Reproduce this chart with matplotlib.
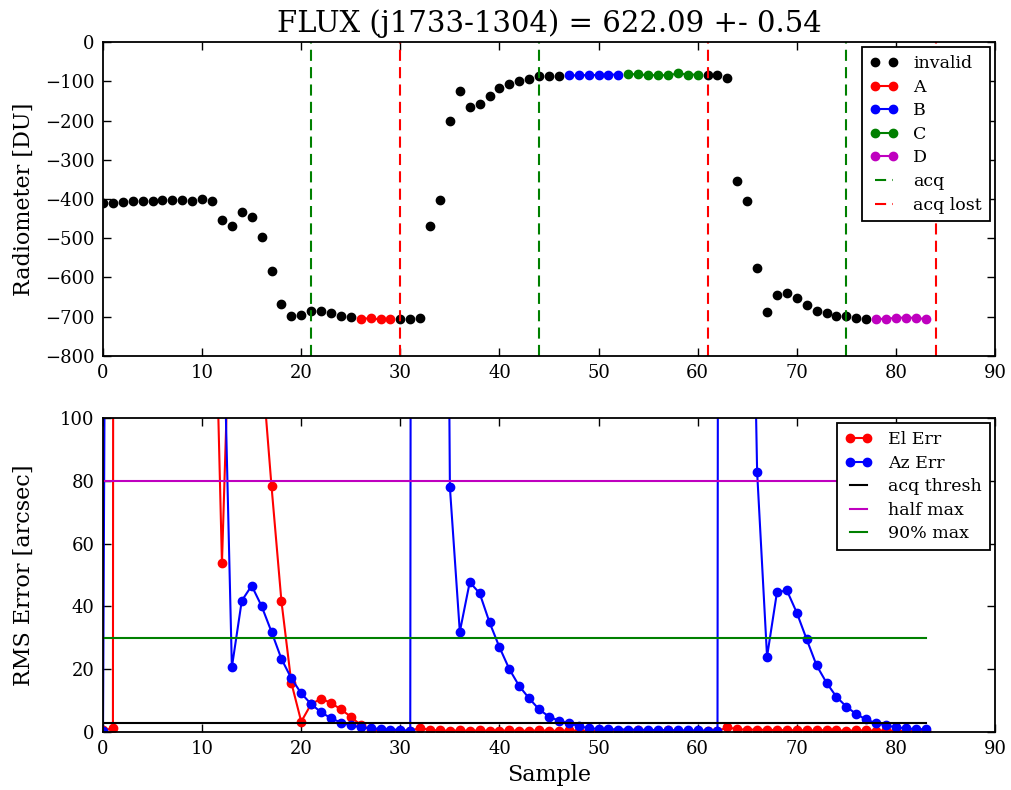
import matplotlib

matplotlib.use("Agg")
import matplotlib.pyplot as plt
import numpy as np

plt.rcParams["font.family"] = ["DejaVu Serif"]
plt.rcParams["lines.scale_dashes"] = False

TITLE = "FLUX (j1733-1304) = 622.09 +- 0.54"

# radiometer reading per sample (0..83)
radiometer = [
    -410, -411, -408, -406, -406, -406, -402, -402, -403, -404,
    -400, -404, -454, -468, -433, -445, -496, -583, -668, -698,
    -696, -685, -685, -691, -697, -701, -705, -704, -707, -707,
    -705, -707, -703, -468, -402, -201, -125, -166, -158, -137,
    -118, -108, -99, -93, -87, -87, -86, -85, -85, -84,
    -84, -83, -83, -82, -82, -85, -84, -85, -80, -83,
    -83, -83, -83, -92, -355, -404, -577, -689, -645, -640,
    -653, -670, -685, -691, -697, -699, -702, -705, -706, -705,
    -703, -702, -703, -706,
]

# sample index ranges of the valid segments
segments = [("A", 26, 29, "r"), ("B", 47, 52, "b"), ("C", 53, 60, "g"), ("D", 78, 83, "m")]
acq = [21, 44, 75]
acq_lost = [30, 61, 84]

el_err = [
    0.5, 1.2, 5000, 5000, 5000, 5000, 5000, 5000, 5000, 5000,
    3000, 182, 53.7, 157, 300, 200, 118, 78.3, 41.7, 15.7,
    3.3, 8.9, 10.6, 9.3, 7.2, 4.9, 2.2, 0.8, 0.5, 0.4,
    0.4, 0.3, 1.4, 0.6, 0.5, 0.4, 0.5, 0.4, 0.5, 0.4,
    0.4, 0.5, 0.4, 0.4, 0.5, 0.4, 0.4, 0.5, 0.4, 0.4,
    0.4, 0.5, 0.4, 0.4, 0.5, 0.4, 0.4, 0.5, 0.4, 0.4,
    0.4, 0.4, 0.3, 1.5, 0.9, 0.7, 0.8, 0.6, 0.7, 0.5,
    0.6, 0.5, 0.5, 0.6, 0.5, 0.4, 0.5, 0.5, 0.4, 0.5,
    0.4, 0.4, 0.3, 0.3,
]
az_err = [
    0.3, 700, 3000, 3000, 3000, 3000, 3000, 3000, 3000, 3000,
    3000, 3000, 153, 20.6, 41.8, 46.6, 40.1, 31.9, 23.3, 17.1,
    12.3, 8.9, 6.3, 4.4, 3.0, 2.1, 1.5, 1.2, 1.0, 0.8,
    0.7, 0.3, 3000, 3000, 520, 77.9, 31.9, 47.7, 44.2, 34.9,
    27.0, 20.0, 14.6, 10.7, 7.2, 4.9, 3.6, 2.8, 1.9, 1.2,
    1.0, 0.9, 0.8, 0.8, 0.7, 0.7, 0.6, 0.6, 0.5, 0.5,
    0.5, 0.4, 0.3, 3000, 3000, 250, 82.7, 24.0, 44.5, 45.1,
    38.0, 29.5, 21.2, 15.7, 11.2, 8.1, 5.7, 4.0, 2.8, 2.1,
    1.5, 1.2, 0.9, 0.9,
]
acq_thresh = 3
half_max = 80
max90 = 30

samples = np.arange(len(radiometer))
rad = np.array(radiometer, dtype=float)

fig = plt.figure(figsize=(10.12, 7.9), dpi=100)
ax1 = fig.add_axes([0.1018, 0.5494, 0.8814, 0.3974])
ax2 = fig.add_axes([0.1018, 0.0734, 0.8814, 0.3975])

MS = 6
LW = 1.5
LEG = dict(loc="upper right", numpoints=2, fontsize=12.5, fancybox=False,
           edgecolor="k", framealpha=1, borderaxespad=0.3, handlelength=1.6,
           labelspacing=0.38, handletextpad=0.9, borderpad=0.45)

# top panel: radiometer
valid = np.zeros(len(rad), dtype=bool)
for _, a, b, _c in segments:
    valid[a:b + 1] = True
ax1.plot(samples[~valid], rad[~valid], "o", color="k", markeredgecolor="k",
         markersize=MS, label="invalid")
for name, a, b, c in segments:
    ax1.plot(samples[a:b + 1], rad[a:b + 1], "o-", color=c, markeredgecolor=c,
             markersize=MS, linewidth=LW, label=name)
for i, x in enumerate(acq):
    ax1.axvline(x, color="g", linewidth=LW, dashes=(8, 4.5),
                label="acq" if i == 0 else None)
for i, x in enumerate(acq_lost):
    ax1.axvline(x, color="r", linewidth=LW, dashes=(8, 4.5),
                label="acq lost" if i == 0 else None)
ax1.set_xlim(0, 90)
ax1.set_ylim(-800, 0)
ax1.set_yticks(np.arange(-800, 1, 100))
ax1.set_ylabel("Radiometer [DU]", fontsize=16)
ax1.set_title(TITLE, fontsize=21, pad=7)
ax1.legend(**LEG)

# bottom panel: pointing errors
ax2.plot(samples, el_err, "o-", color="r", markeredgecolor="r",
         markersize=MS, linewidth=LW, label="El Err")
ax2.plot(samples, az_err, "o-", color="b", markeredgecolor="b",
         markersize=MS, linewidth=LW, label="Az Err")
xend = [0, samples[-1]]
ax2.plot(xend, [acq_thresh] * 2, color="k", linewidth=LW, label="acq thresh")
ax2.plot(xend, [half_max] * 2, color="m", linewidth=LW, label="half max")
ax2.plot(xend, [max90] * 2, color="g", linewidth=LW, label="90% max")
ax2.set_xlim(0, 90)
ax2.set_ylim(0, 100)
ax2.set_ylabel("RMS Error [arcsec]", fontsize=16)
ax2.set_xlabel("Sample", fontsize=16, labelpad=4)
ax2.legend(**LEG)

for ax in (ax1, ax2):
    ax.set_xticks(np.arange(0, 91, 10))
    ax.tick_params(direction="in", top=True, right=True, length=6, width=1,
                   labelsize=13, pad=6)
    for s in ax.spines.values():
        s.set_linewidth(1.3)
    ax.get_legend().get_frame().set_linewidth(1.3)
    ax.yaxis.set_label_coords(-0.076, 0.5)

fig.savefig("out.png", dpi=100)
